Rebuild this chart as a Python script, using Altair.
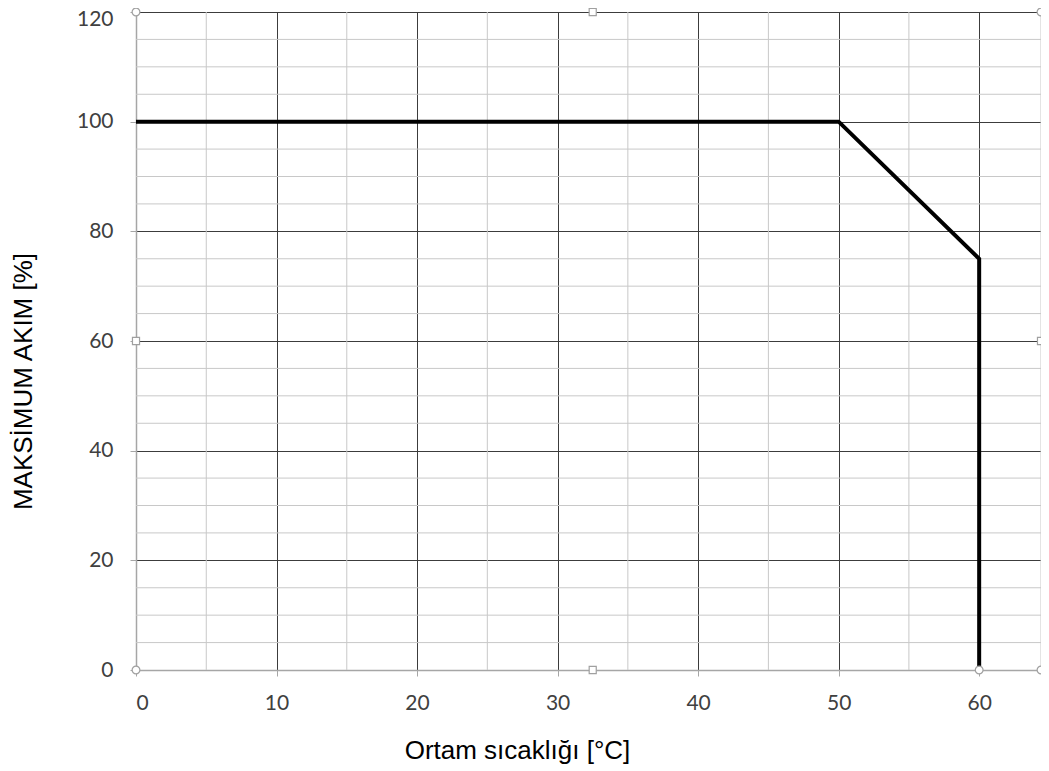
import altair as alt
import pandas as pd

# derating curve
temp = [0, 50, 60, 60]
current = [100, 100, 75, 0]

x_max = 64.4  # visible right edge of the plot area (axis runs on to ~65)
x_major = [0, 10, 20, 30, 40, 50, 60]
y_major = [0, 20, 40, 60, 80, 100, 120]
x_minor = [5, 15, 25, 35, 45, 55, x_max]
y_minor = [5, 10, 15, 25, 30, 35, 45, 50, 55, 65, 70, 75, 85, 90, 95, 105, 110, 115]

# plot-area selection handles seen in the screenshot
handle_circle_x = [0, 0, x_max, x_max, 60]
handle_circle_y = [0, 120, 0, 120, 0]
handle_square_x = [32.5, 32.5, 0, x_max]
handle_square_y = [0, 120, 60, 60]

line_df = pd.DataFrame({"t": temp, "i": current, "o": list(range(len(temp)))})
vminor = pd.DataFrame({"x": x_minor})
hminor = pd.DataFrame({"y": y_minor})
hc = pd.DataFrame({"x": handle_circle_x, "y": handle_circle_y})
hs = pd.DataFrame({"x": handle_square_x, "y": handle_square_y})

xs = alt.Scale(domain=[0, x_max], nice=False, zero=False)
ys = alt.Scale(domain=[0, 120], nice=False, zero=False)

x_axis = alt.Axis(
    values=x_major, grid=True,
    labelBaseline="middle", labelPadding=27,
    title="Ortam sıcaklığı [°C]",
    titleX=381, titleY=80, titleBaseline="middle", titleAnchor="middle",
)
y_axis = alt.Axis(
    values=y_major, grid=True,
    labelPadding=17,
    labelOffset={"condition": {"test": "datum.value == 120", "value": 7}, "value": 0},
    title="MAKSİMUM AKIM [%]",
    titleX=-113, titleY=369, titleBaseline="middle", titleAnchor="middle", titleAngle=-90,
)

vgrid = alt.Chart(vminor).mark_rule(color="#c8c8c8", strokeWidth=1).encode(
    x=alt.X("x:Q", scale=xs, axis=x_axis)
)
hgrid = alt.Chart(hminor).mark_rule(color="#c8c8c8", strokeWidth=1).encode(
    y=alt.Y("y:Q", scale=ys, axis=y_axis)
)
line = alt.Chart(line_df).mark_line(color="#000000", strokeWidth=4).encode(
    x=alt.X("t:Q", scale=xs, axis=x_axis), y=alt.Y("i:Q", scale=ys, axis=y_axis), order="o:Q"
)
circles = alt.Chart(hc).mark_point(
    shape="circle", size=60, filled=True, fill="#ffffff", stroke="#a0a0a0", strokeWidth=1.2, opacity=1
).encode(x=alt.X("x:Q", scale=xs, axis=x_axis), y=alt.Y("y:Q", scale=ys, axis=y_axis))
squares = alt.Chart(hs).mark_point(
    shape="square", size=50, filled=True, fill="#ffffff", stroke="#a0a0a0", strokeWidth=1.2, opacity=1
).encode(x=alt.X("x:Q", scale=xs, axis=x_axis), y=alt.Y("y:Q", scale=ys, axis=y_axis))

chart = alt.layer(vgrid, hgrid, line, circles, squares).properties(
    width=905, height=658,
    autosize=alt.AutoSizeParams(type="none"),
    padding={"left": 128, "top": 4, "right": 0, "bottom": 100},
).configure_view(stroke=None).configure(background="#ffffff").configure_axis(
    gridColor="#3c3c3c", gridWidth=1,
    domainColor="#a6a6a6", domainWidth=1.5, tickColor="#a6a6a6", tickSize=6,
    labelFont="Lato", labelFontSize=21, labelColor="#404040",
    titleFont="Liberation Sans", titleFontSize=26, titleFontWeight="normal", titleColor="#000000",
)

chart.save("out.html", embed_options={"renderer": "svg", "actions": False})
